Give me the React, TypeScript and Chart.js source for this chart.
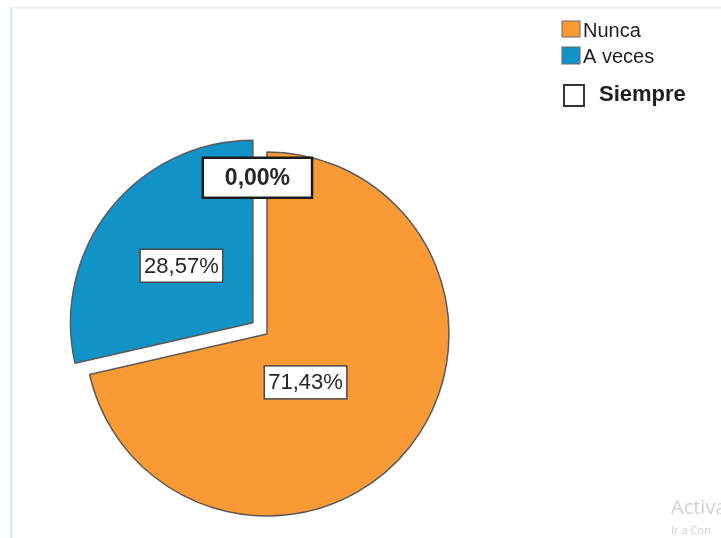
import React, { useEffect, useRef } from "react";
import { Chart, registerables } from "chart.js";

Chart.register(...registerables);

// ---- data ----
const categories = ["Nunca", "A veces", "Siempre"];
const values = [71.43, 28.57, 0];

// ---- styles ----
const sliceColors = ["#FA9A35", "#1193C8", "#FFFFFF"];
const sliceOffsets = [0, 72, 0];
const labelSpanFrac = [0.55, 0.5, 0];
const labelAngleShift = [0, 0, -3.5];
const labelRadiusFrac = [0.34, 0.5, 0.86];
const labelFonts = [
  "22px 'Liberation Sans', Arial, sans-serif",
  "22px 'Liberation Sans', Arial, sans-serif",
  "bold 23px 'Liberation Sans', Arial, sans-serif",
];
const labelPadX = [4, 4, 22];
const labelBoxH = [33, 33, 40];
const labelBorderW = [1.5, 1.5, 2.5];
const labelBorderC = ["#4a4a4a", "#4a4a4a", "#1a1a1a"];

const fmt = (v: number) => v.toFixed(2).replace(".", ",") + "%";

const framePlugin = {
  id: "frame",
  beforeDraw(chart: any) {
    const ctx = chart.ctx;
    ctx.save();
    ctx.fillStyle = "#ffffff";
    ctx.fillRect(0, 0, chart.width, chart.height);
    ctx.fillStyle = "#dde8f4";
    ctx.fillRect(10, 7, 2.5, chart.height - 7);
    ctx.fillStyle = "#e4edf6";
    ctx.fillRect(10, 7, chart.width - 10, 1.5);
    ctx.restore();
  },
};

const labelPlugin = {
  id: "sliceLabels",
  afterDatasetsDraw(chart: any) {
    const ctx = chart.ctx;
    const meta = chart.getDatasetMeta(0);
    meta.data.forEach((arc: any, i: number) => {
      const { x, y, startAngle, endAngle, outerRadius } = arc.getProps(
        ["x", "y", "startAngle", "endAngle", "outerRadius"],
        true
      );
      const circ = endAngle - startAngle;
      const half = (startAngle + endAngle) / 2;
      const fix = 1 - Math.sin(Math.min(Math.PI, circ || 0));
      const shift = (sliceOffsets[i] / 4) * (1 + fix);
      const cx = x + Math.cos(half) * shift;
      const cy = y + Math.sin(half) * shift;
      const ang = startAngle + circ * labelSpanFrac[i] + (labelAngleShift[i] * Math.PI) / 180;
      const r = outerRadius * labelRadiusFrac[i];
      const lx = cx + Math.cos(ang) * r;
      const ly = cy + Math.sin(ang) * r;
      const text = fmt(values[i]);
      ctx.save();
      ctx.font = labelFonts[i];
      const tw = ctx.measureText(text).width;
      const bw = tw + labelPadX[i] * 2;
      const bh = labelBoxH[i];
      ctx.fillStyle = "#ffffff";
      ctx.fillRect(lx - bw / 2, ly - bh / 2, bw, bh);
      ctx.lineWidth = labelBorderW[i];
      ctx.strokeStyle = labelBorderC[i];
      ctx.strokeRect(lx - bw / 2, ly - bh / 2, bw, bh);
      ctx.fillStyle = "#262626";
      ctx.textAlign = "center";
      ctx.textBaseline = "middle";
      ctx.fillText(text, lx, ly + 1);
      ctx.restore();
    });
  },
};

const legendPlugin = {
  id: "customLegend",
  afterDraw(chart: any) {
    const ctx = chart.ctx;
    ctx.save();
    const rows = [
      { sq: [562, 21, 18, 16], tx: 583, ty: 37, font: "20px 'Liberation Sans', Arial, sans-serif", bw: 1 },
      { sq: [562, 47, 18, 17], tx: 583, ty: 63, font: "20px 'Liberation Sans', Arial, sans-serif", bw: 1 },
      { sq: [564, 85, 20, 21], tx: 599, ty: 101, font: "bold 22px 'Liberation Sans', Arial, sans-serif", bw: 2 },
    ];
    categories.forEach((c, i) => {
      const r = rows[i];
      const [sx, sy, sw, sh] = r.sq;
      ctx.fillStyle = sliceColors[i];
      ctx.fillRect(sx, sy, sw, sh);
      ctx.lineWidth = r.bw;
      ctx.strokeStyle = i === 2 ? "#333333" : "#6a6a6a";
      ctx.strokeRect(sx, sy, sw, sh);
      ctx.font = r.font;
      ctx.fillStyle = "#1e1e1e";
      ctx.textAlign = "left";
      ctx.textBaseline = "alphabetic";
      ctx.fillText(c, r.tx, r.ty);
    });
    // faint system watermark visible in the reference corner
    ctx.fillStyle = "#d2d2d2";
    ctx.font = "20px 'Open Sans', 'Noto Sans', sans-serif";
    ctx.fillText("Activa", 671, 514);
    ctx.font = "11px 'Open Sans', 'Noto Sans', sans-serif";
    ctx.fillText("Ir a Con", 671, 534);
    ctx.restore();
  },
};

export default function App() {
  const ref = useRef<HTMLCanvasElement | null>(null);
  useEffect(() => {
    if (!ref.current) return;
    const chart = new Chart(ref.current, {
      type: "pie",
      data: {
        labels: categories,
        datasets: [
          {
            data: values,
            backgroundColor: sliceColors,
            borderColor: "#5a5a5a",
            borderWidth: 1.5,
            offset: sliceOffsets,
          } as any,
        ],
      },
      options: {
        responsive: false,
        animation: false,
        events: [],
        radius: 182,
        layout: { padding: { left: 0, right: 187, top: 130, bottom: 0 } },
        plugins: {
          legend: { display: false },
          tooltip: { enabled: false },
        },
      } as any,
      plugins: [framePlugin, labelPlugin, legendPlugin],
    });
    return () => chart.destroy();
  }, []);
  return (
    <div style={{ position: "absolute", left: 0, top: 0, width: 721, height: 538 }}>
      <canvas ref={ref} width={721} height={538} style={{ width: 721, height: 538, display: "block" }} />
    </div>
  );
}
